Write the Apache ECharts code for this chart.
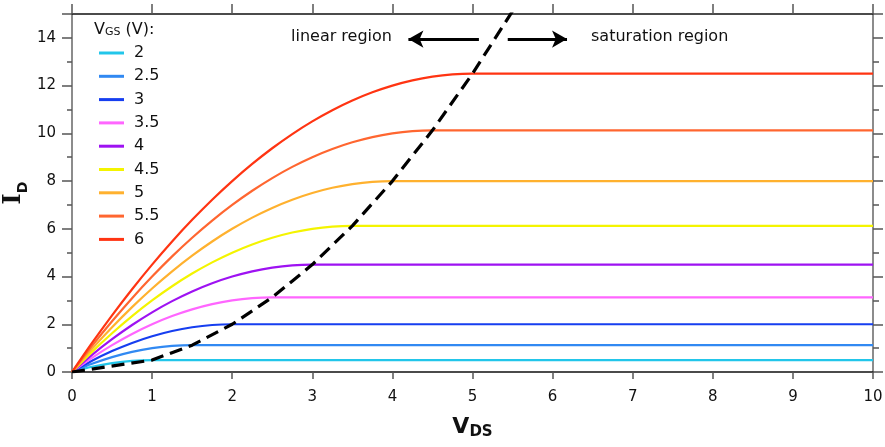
<!DOCTYPE html>
<html>
<head>
<meta charset="utf-8">
<script src="https://cdn.jsdelivr.net/npm/echarts@6/dist/echarts.min.js"></script>
<style>
  html, body { margin: 0; padding: 0; background: #fff; }
  #chart { width: 885px; height: 447px; }
</style>
</head>
<body>
<div id="chart"></div>
<script>
// Drain voltage sample points (V) shared by every curve in the triode region
const vdsGrid = [0, 0.25, 0.5, 0.75, 1, 1.25, 1.5, 1.75, 2, 2.25, 2.5, 2.75,
                 3, 3.25, 3.5, 3.75, 4, 4.25, 4.5, 4.75, 5];
const vdsEnd = 10;

// Gate voltages of the family of curves
const vgsLabels = ['2', '2.5', '3', '3.5', '4', '4.5', '5', '5.5', '6'];
const vgsColors = ['#22c6ea', '#3189f2', '#163ef0', '#ff66ff', '#9e12f2',
                   '#f4f400', '#ffb12e', '#ff6630', '#ff3412'];

// Drain current per gate voltage, sampled on vdsGrid up to the pinch-off point
const idVgs2   = [0, 0.219, 0.375, 0.469, 0.5];
const idVgs2_5 = [0, 0.344, 0.625, 0.844, 1.0, 1.094, 1.125];
const idVgs3   = [0, 0.469, 0.875, 1.219, 1.5, 1.719, 1.875, 1.969, 2.0];
const idVgs3_5 = [0, 0.594, 1.125, 1.594, 2.0, 2.344, 2.625, 2.844, 3.0, 3.094, 3.125];
const idVgs4   = [0, 0.719, 1.375, 1.969, 2.5, 2.969, 3.375, 3.719, 4.0, 4.219, 4.375,
                  4.469, 4.5];
const idVgs4_5 = [0, 0.844, 1.625, 2.344, 3.0, 3.594, 4.125, 4.594, 5.0, 5.344, 5.625,
                  5.844, 6.0, 6.094, 6.125];
const idVgs5   = [0, 0.969, 1.875, 2.719, 3.5, 4.219, 4.875, 5.469, 6.0, 6.469, 6.875,
                  7.219, 7.5, 7.719, 7.875, 7.969, 8.0];
const idVgs5_5 = [0, 1.094, 2.125, 3.094, 4.0, 4.844, 5.625, 6.344, 7.0, 7.594, 8.125,
                  8.594, 9.0, 9.344, 9.625, 9.844, 10.0, 10.094, 10.125];
const idVgs6   = [0, 1.219, 2.375, 3.469, 4.5, 5.469, 6.375, 7.219, 8.0, 8.719, 9.375,
                  9.969, 10.5, 10.969, 11.375, 11.719, 12.0, 12.219, 12.375, 12.469, 12.5];
const idCurves = [idVgs2, idVgs2_5, idVgs3, idVgs3_5, idVgs4, idVgs4_5, idVgs5, idVgs5_5, idVgs6];

// Boundary between the linear and saturation regions (dashed)
const boundaryVds = [0, 1, 1.5, 2, 2.5, 3, 3.5, 4, 4.5, 5, 5.5];
const boundaryId  = [0, 0.5, 1.125, 2, 3.125, 4.5, 6.125, 8, 10.125, 12.5, 15.125];

// Axis tick ranges
const xMin = 0, xMax = 10, xStep = 1;
const yMin = 0, yMax = 15, yStep = 2;

const FONT = 'DejaVu Sans';

const curveSeries = idCurves.map((vals, k) => {
  const pts = vals.map((v, i) => [vdsGrid[i], v]);
  pts.push([vdsEnd, vals[vals.length - 1]]);
  return {
    name: vgsLabels[k],
    type: 'line',
    data: pts,
    showSymbol: false,
    symbol: 'none',
    smooth: 0.3,
    clip: true,
    color: vgsColors[k],
    lineStyle: { color: vgsColors[k], width: 2.2 },
    z: 2
  };
});

const boundarySeries = {
  name: 'boundary',
  type: 'line',
  data: boundaryVds.map((x, i) => [x, boundaryId[i]]),
  showSymbol: false,
  symbol: 'none',
  clip: true,
  lineStyle: { color: '#000', width: 3.2, type: [13, 7] },
  z: 5,
  markLine: {
    silent: true,
    symbol: ['none', 'arrow'],
    symbolSize: [13, 15],
    label: { show: false },
    lineStyle: { color: '#000', width: 3, type: 'solid' },
    data: [
      [{ coord: [5.08, 13.95] }, { coord: [4.2, 13.95] }],
      [{ coord: [5.44, 13.95] }, { coord: [6.18, 13.95] }]
    ]
  }
};

const chart = echarts.init(document.getElementById('chart'), null, { renderer: 'canvas' });

const labelStyle = { fontFamily: FONT, fontSize: 15, color: '#111' };

chart.setOption({
  animation: false,
  backgroundColor: '#fff',
  grid: { left: 72, right: 12, top: 14, bottom: 75, containLabel: false, outerBoundsMode: 'none' },
  legend: {
    data: vgsLabels,
    orient: 'vertical',
    left: 99,
    top: 44,
    padding: 0,
    icon: 'rect',
    itemWidth: 25,
    itemHeight: 3,
    itemGap: 5.3,
    selectedMode: false,
    textStyle: { fontFamily: FONT, fontSize: 16, color: '#111', lineHeight: 18, padding: [0, 0, 0, 5] }
  },
  xAxis: [
    {
      type: 'value', position: 'bottom', min: xMin, max: xMax, interval: xStep,
      name: '{v|V}{s|DS}',
      nameLocation: 'middle',
      nameGap: 44,
      nameMoveOverlap: false,
      nameTextStyle: {
        rich: {
          v: { fontFamily: FONT, fontWeight: 'bold', fontSize: 22, color: '#111', verticalAlign: 'bottom', padding: [0, 0, 2, 0] },
          s: { fontFamily: FONT, fontWeight: 'bold', fontSize: 15, color: '#111', verticalAlign: 'bottom' }
        }
      },
      axisLine: { show: true, onZero: false, lineStyle: { color: '#111', width: 1.5 } },
      axisTick: { show: true, length: 7, lineStyle: { color: '#555', width: 1.5 } },
      axisLabel: Object.assign({ margin: 18 }, labelStyle),
      splitLine: { show: false }
    },
    {
      type: 'value', position: 'top', min: xMin, max: xMax, interval: xStep,
      axisLine: { show: true, onZero: false, lineStyle: { color: '#111', width: 1.5 } },
      axisTick: { show: true, length: 10, lineStyle: { color: '#555', width: 1.5 } },
      axisLabel: { show: false },
      splitLine: { show: false }
    }
  ],
  yAxis: [
    {
      type: 'value', position: 'left', min: yMin, max: yMax, interval: yStep,
      name: '{i|I}{s|D}',
      nameLocation: 'middle',
      nameRotate: 90,
      nameGap: 42,
      nameMoveOverlap: false,
      nameTextStyle: {
        rich: {
          i: { fontFamily: 'DejaVu Serif', fontWeight: 'bold', fontSize: 24, color: '#111', verticalAlign: 'bottom', padding: [0, 0, 4, 0] },
          s: { fontFamily: FONT, fontWeight: 'bold', fontSize: 14, color: '#111', verticalAlign: 'bottom' }
        }
      },
      axisLine: { show: true, onZero: false, lineStyle: { color: '#666', width: 1.5 } },
      axisTick: { show: true, length: 10, lineStyle: { color: '#555', width: 1.5 } },
      minorTick: { show: true, splitNumber: 2, length: 5, lineStyle: { color: '#555', width: 1.5 } },
      axisLabel: Object.assign({ margin: 16, showMaxLabel: false,
        formatter: v => (v % yStep === 0 ? String(v) : '') }, labelStyle),
      splitLine: { show: false }
    },
    {
      type: 'value', position: 'right', min: yMin, max: yMax, interval: yStep,
      axisLine: { show: true, onZero: false, lineStyle: { color: '#666', width: 1.5 } },
      axisTick: { show: true, length: 10, lineStyle: { color: '#555', width: 1.5 } },
      minorTick: { show: true, splitNumber: 2, length: 6, lineStyle: { color: '#555', width: 1.5 } },
      axisLabel: { show: false },
      splitLine: { show: false }
    }
  ],
  graphic: [
    {
      type: 'text', left: 94, top: 22, silent: true,
      style: {
        text: '{v|V}{s|GS}{v| (V):}',
        rich: {
          v: { fontFamily: FONT, fontSize: 16, fill: '#111', verticalAlign: 'bottom' },
          s: { fontFamily: FONT, fontSize: 11, fill: '#111', verticalAlign: 'bottom' }
        }
      }
    },
    {
      type: 'text', left: 291, top: 29, silent: true,
      style: { text: 'linear region', fontFamily: FONT, fontSize: 16, fill: '#111' }
    },
    {
      type: 'text', left: 591, top: 29, silent: true,
      style: { text: 'saturation region', fontFamily: FONT, fontSize: 16, fill: '#111' }
    }
  ],
  series: curveSeries.concat([boundarySeries])
});
</script>
</body>
</html>
